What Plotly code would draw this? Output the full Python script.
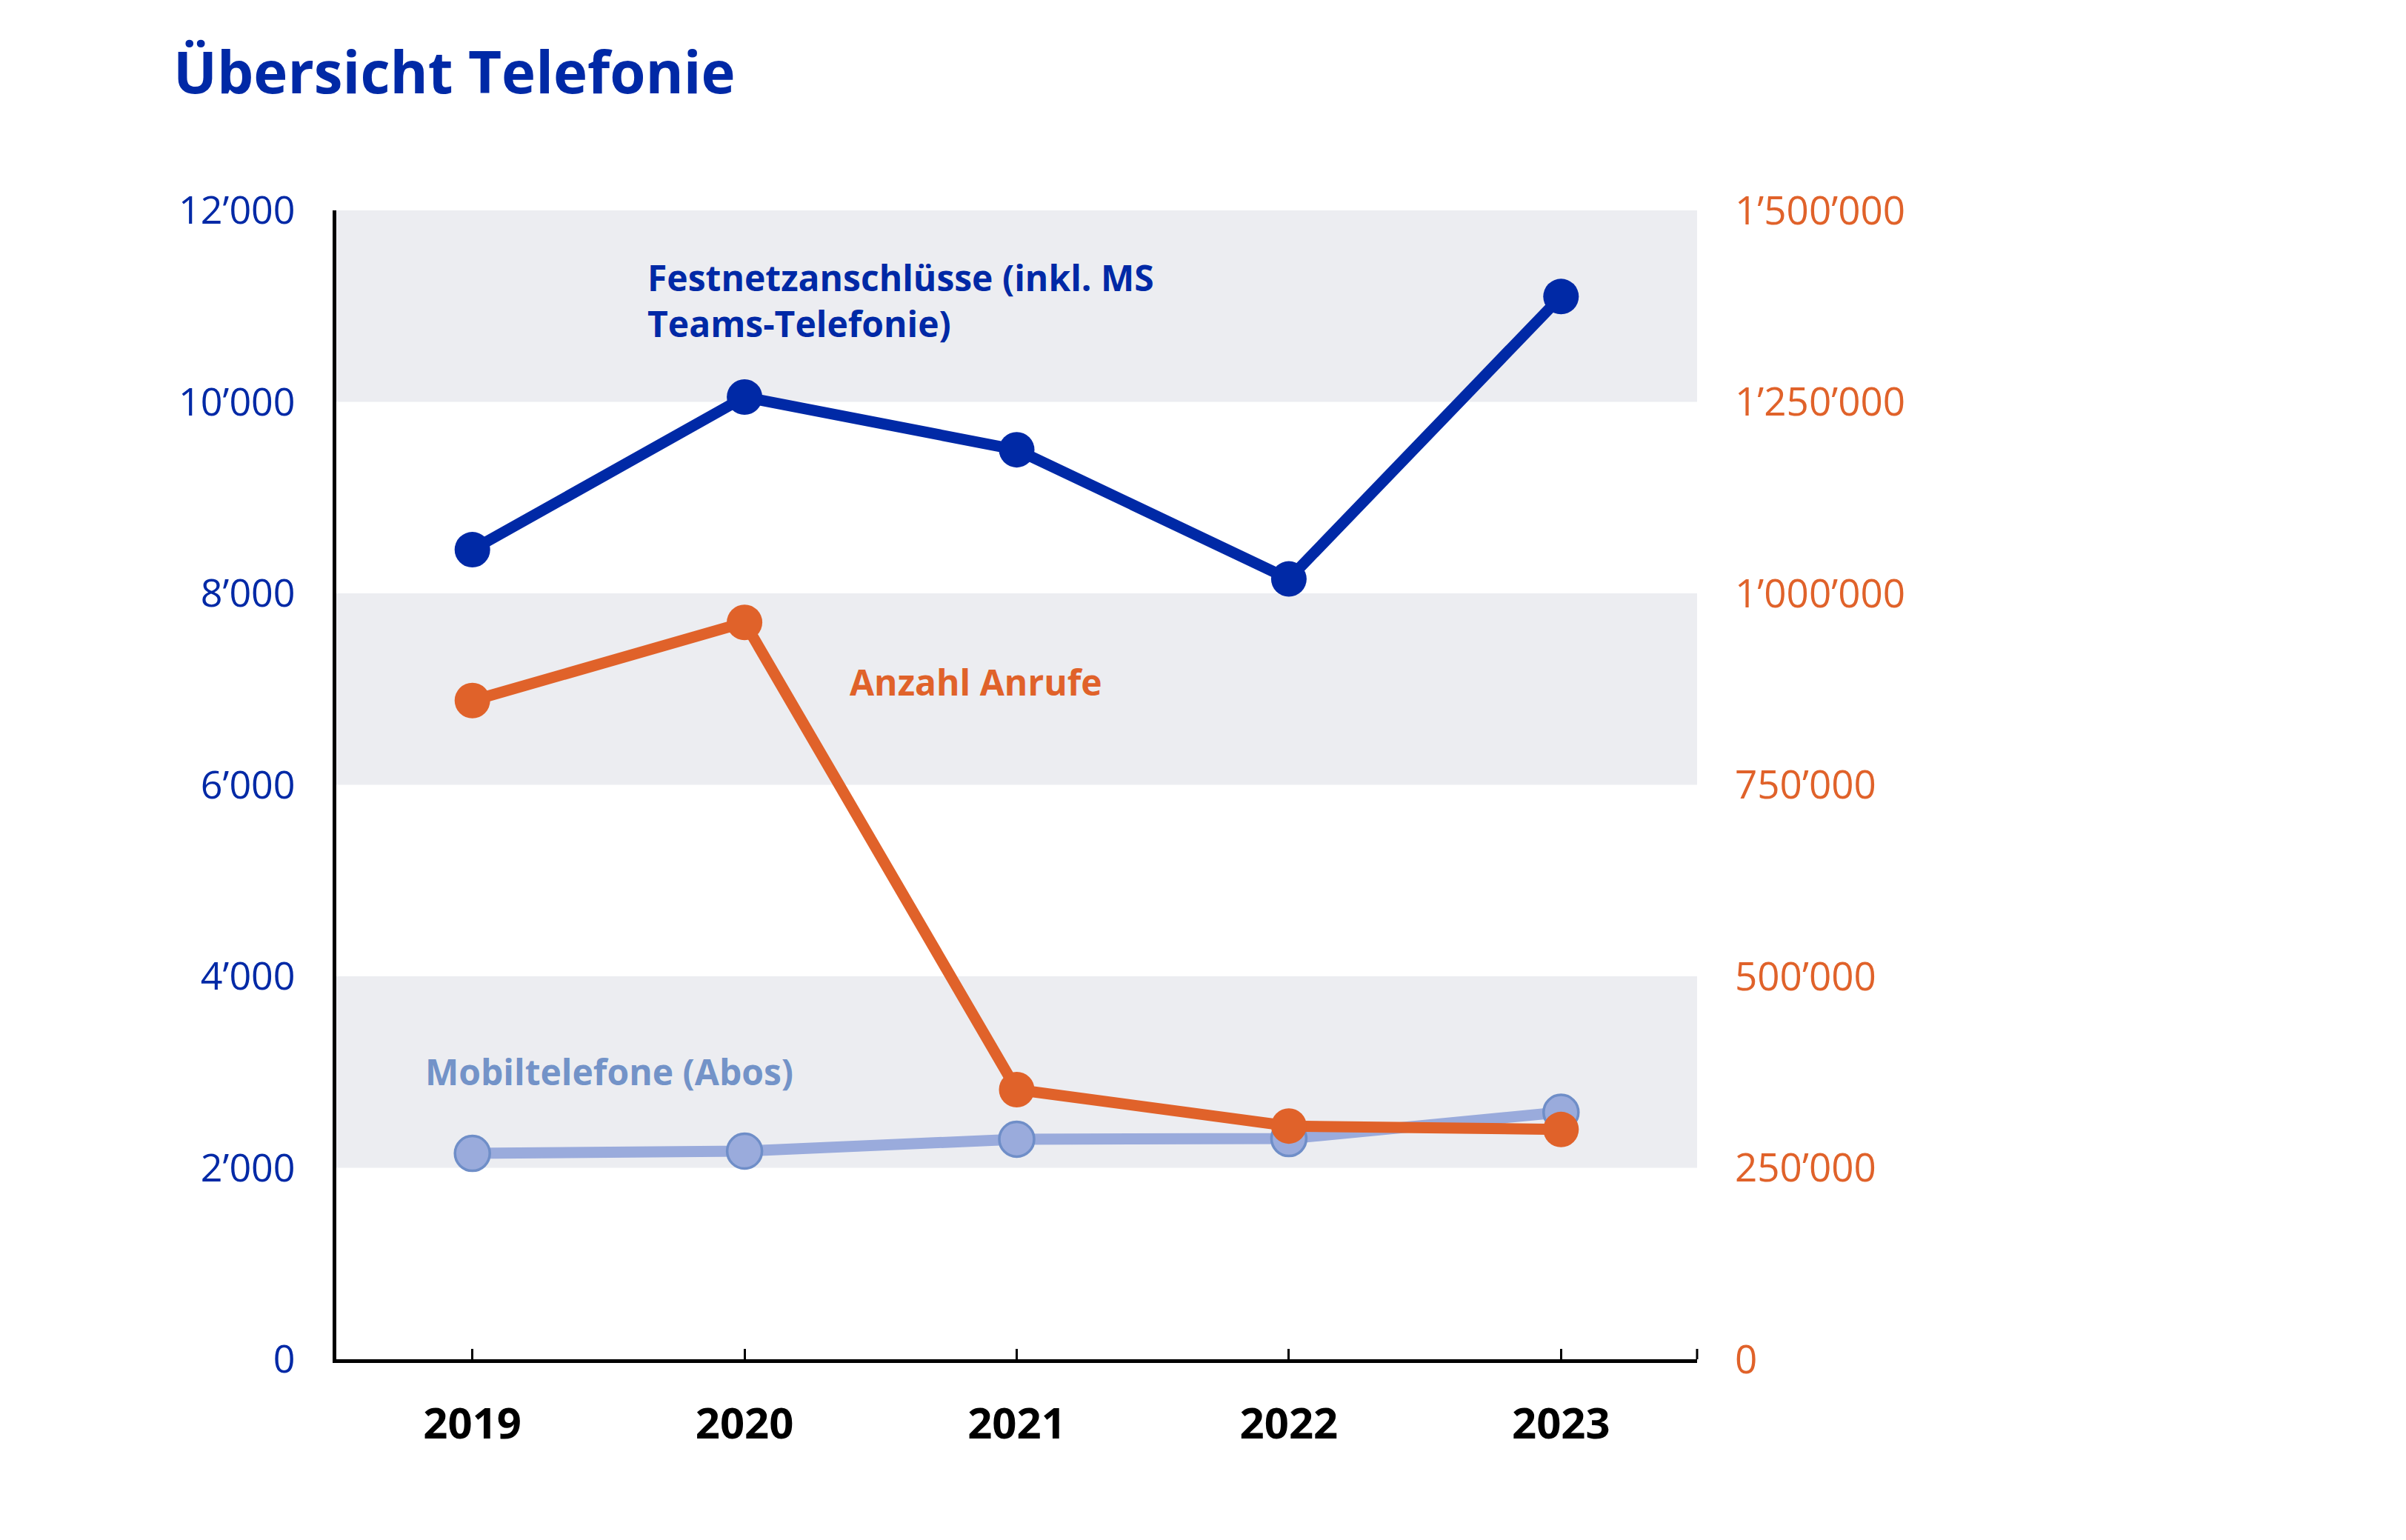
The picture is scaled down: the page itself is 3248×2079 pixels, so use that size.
import plotly.graph_objects as go

years = ["2019", "2020", "2021", "2022", "2023"]
festnetz = [8456, 10050, 9500, 8150, 11100]
anrufe = [860000, 962000, 352000, 304500, 300000]
mobil = [2150, 2174, 2298, 2305, 2580]

left_ticks = [0, 2000, 4000, 6000, 8000, 10000, 12000]
right_ticks = [0, 250000, 500000, 750000, 1000000, 1250000, 1500000]
bands = [(2000, 4000), (6000, 8000), (10000, 12000)]

BLUE = "#0029A6"
ORANGE = "#E0622A"
LIGHT = "#9AABDC"
LIGHT_EDGE = "#6F8EC8"
LIGHT_TXT = "#7393C8"
BAND = "#ECEDF1"
FONT = "Open Sans"

# body margin of the html page is 8px: compensate
OFF = 8
L, R, T, B = 454, 2291, 284, 1835

def fmt(v):
    return f"{v:,}".replace(",", "\u2019")

fig = go.Figure()
fig.add_trace(go.Scatter(x=years, y=mobil, mode="lines+markers",
                         line=dict(color=LIGHT, width=15),
                         marker=dict(size=47, color=LIGHT, line=dict(color=LIGHT_EDGE, width=3.5)),
                         yaxis="y", showlegend=False))
fig.add_trace(go.Scatter(x=years, y=festnetz, mode="lines+markers",
                         line=dict(color=BLUE, width=15),
                         marker=dict(size=48, color=BLUE),
                         yaxis="y", showlegend=False))
fig.add_trace(go.Scatter(x=years, y=anrufe, mode="lines+markers",
                         line=dict(color=ORANGE, width=15),
                         marker=dict(size=48, color=ORANGE),
                         yaxis="y2", showlegend=False))

for y0, y1 in bands:
    fig.add_shape(type="rect", xref="paper", yref="y", x0=0, x1=1, y0=y0, y1=y1,
                  fillcolor=BAND, line_width=0, layer="below")

# small end tick at right end of x axis
fig.add_shape(type="line", xref="paper", yref="y", x0=1, x1=1, y0=0, y1=14,
              ysizemode="pixel", yanchor=0, line=dict(color="black", width=3))

fig.add_annotation(xref="paper", yref="paper", x=(872-L)/(R-L), y=(B-340)/(B-T),
                   xanchor="left", yanchor="top", align="left", showarrow=False,
                   text="<b>Festnetzanschlüsse (inkl. MS<br>Teams-Telefonie)</b>",
                   font=dict(family=FONT, size=48, color=BLUE))
fig.add_annotation(xref="paper", yref="paper", x=(1145-L)/(R-L), y=(B-920)/(B-T),
                   xanchor="left", yanchor="middle", showarrow=False,
                   text="<b>Anzahl Anrufe</b>",
                   font=dict(family=FONT, size=48, color=ORANGE))
fig.add_annotation(xref="paper", yref="paper", x=(572-L)/(R-L), y=(B-1446)/(B-T),
                   xanchor="left", yanchor="middle", showarrow=False,
                   text="<b>Mobiltelefone (Abos)</b>",
                   font=dict(family=FONT, size=48, color=LIGHT_TXT))

fig.update_layout(
    width=3248, height=2079,
    margin=dict(l=L-OFF, r=3248-R+OFF, t=T-OFF, b=2079-B+OFF),
    paper_bgcolor="white", plot_bgcolor="white",
    title=dict(text="<b>Übersicht Telefonie</b>", xref="container", yref="container",
               x=(234-OFF)/3248, xanchor="left", y=1-(99-OFF)/2079, yanchor="middle",
               font=dict(family=FONT, size=78, color=BLUE)),
    xaxis=dict(type="category", range=[-0.5, 4.5], showline=True, linecolor="black",
               linewidth=5, ticks="inside", ticklen=14, tickwidth=3, tickcolor="black",
               showgrid=False, zeroline=False, ticklabelstandoff=32,
               tickfont=dict(family=FONT, size=58, color="black", weight="bold")),
    yaxis=dict(range=[0, 12000], tickvals=left_ticks, ticktext=[fmt(v) for v in left_ticks],
               showline=True, linecolor="black", linewidth=5, showgrid=False, zeroline=False,
               ticks="", ticklabelstandoff=40,
               tickfont=dict(family=FONT, size=52, color=BLUE)),
    yaxis2=dict(range=[0, 1500000], tickvals=right_ticks, ticktext=[fmt(v) for v in right_ticks],
                overlaying="y", side="right", showline=False, showgrid=False, zeroline=False,
                ticks="", ticklabelstandoff=50,
                tickfont=dict(family=FONT, size=53, color=ORANGE)),
)

fig.write_html("out.html")
